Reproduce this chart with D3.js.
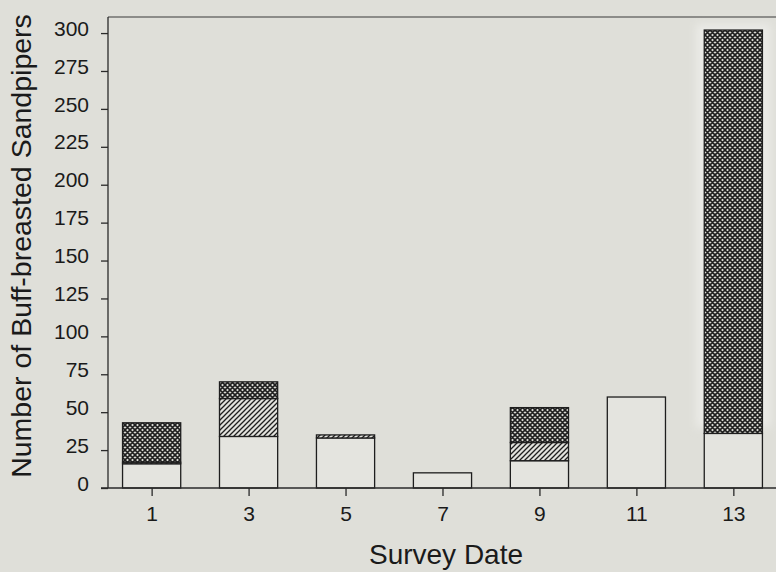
<!DOCTYPE html>
<html lang="en">
<head>
  <meta charset="UTF-8">
  <title>Buff-breasted Sandpipers</title>
  <script src="https://d3js.org/d3.v7.min.js"></script>
  <style>
    body {
      margin: 0;
      padding: 0;
      background: #dfdfd9;
    }
    #chart {
      width: 776px;
      height: 572px;
    }
    text {
      font-family: "Liberation Sans", Arial, sans-serif;
      fill: #1a1a1a;
    }
  </style>
</head>
<body>
  <div id="chart"></div>
<script>
  // survey dates and the three stacked parts of each bar
  const dates = [1, 3, 5, 7, 9, 11, 13]
  const openPart = [16, 34, 33, 10, 18, 60, 36]
  const hatchPart = [1, 25, 2, 0, 12, 0, 0]
  const crossPart = [26, 11, 0, 0, 23, 0, 266]
  const yTicks = [0, 25, 50, 75, 100, 125, 150, 175, 200, 225, 250, 275, 300]
  const xTicks = [1, 3, 5, 7, 9, 11, 13]

  const width = 776
  const height = 572
  const margin = {left: 108, right: 776, top: 17, bottom: 488}

  const svg = d3.select('#chart')
    .append('svg')
    .attr('width', width)
    .attr('height', height)

  svg.append('rect')
    .attr('width', width)
    .attr('height', height)
    .attr('fill', '#dfdfd9')

  const x = d3.scaleLinear().domain([0.1, 13.88]).range([margin.left, margin.right])
  const y = d3.scaleLinear().domain([0, 310.6]).range([margin.bottom, margin.top])
  const barW = x(1.6) - x(0.4)

  // fill patterns
  const defs = svg.append('defs')
  const cross = defs.append('pattern')
    .attr('id', 'cross')
    .attr('patternUnits', 'userSpaceOnUse')
    .attr('width', 5).attr('height', 5)
  cross.append('rect').attr('width', 5).attr('height', 5).attr('fill', '#dcdcd6')
  cross.append('path')
    .attr('d', 'M0,0L5,5M5,0L0,5M-1,4L1,6M4,-1L6,1M4,6L6,4M-1,1L1,-1')
    .attr('stroke', '#1e1e1e')
    .attr('stroke-width', 1.6)

  const hatch = defs.append('pattern')
    .attr('id', 'hatch')
    .attr('patternUnits', 'userSpaceOnUse')
    .attr('width', 5).attr('height', 5)
  hatch.append('rect').attr('width', 5).attr('height', 5).attr('fill', '#e2e2dd')
  hatch.append('path')
    .attr('d', 'M0,5L5,0M-1,1L1,-1M4,6L6,4')
    .attr('stroke', '#1e1e1e')
    .attr('stroke-width', 1.3)

  defs.append('filter')
    .attr('id', 'soft')
    .attr('x', '-20%').attr('y', '-5%')
    .attr('width', '140%').attr('height', '110%')
    .append('feGaussianBlur')
    .attr('stdDeviation', 4)

  // faint light halo seen round the tall last bar
  const last = dates.length - 1
  const lastTop = openPart[last] + hatchPart[last] + crossPart[last]
  svg.append('rect')
    .attr('x', x(dates[last]) - barW / 2 - 8)
    .attr('width', barW + 16)
    .attr('y', y(lastTop) - 6)
    .attr('height', y(40) - y(lastTop) + 6)
    .attr('fill', '#ebebe7')
    .attr('filter', 'url(#soft)')

  // stack the parts
  const rows = dates.map((d, i) => ({date: d, open: openPart[i], hatch: hatchPart[i], cross: crossPart[i]}))
  const stack = d3.stack().keys(['open', 'hatch', 'cross'])(rows)
  const fills = {open: '#e4e4df', hatch: 'url(#hatch)', cross: 'url(#cross)'}

  svg.append('g')
    .selectAll('g')
    .data(stack)
    .join('g')
    .attr('fill', s => fills[s.key])
    .selectAll('rect')
    .data(s => s.filter(d => d[1] > d[0]))
    .join('rect')
    .attr('x', d => x(d.data.date) - barW / 2)
    .attr('width', barW)
    .attr('y', d => y(d[1]))
    .attr('height', d => y(d[0]) - y(d[1]))
    .attr('stroke', '#1e1e1e')
    .attr('stroke-width', 1.3)

  // frame: top line and left axis
  svg.append('line')
    .attr('x1', margin.left).attr('x2', margin.right)
    .attr('y1', margin.top).attr('y2', margin.top)
    .attr('stroke', '#3a3a3a').attr('stroke-width', 1.2)

  const yAxis = svg.append('g')
    .attr('transform', `translate(${margin.left},0)`)
    .call(d3.axisLeft(y).tickValues(yTicks).tickSize(7).tickPadding(12))
  yAxis.select('.domain').attr('d', `M0,${margin.top}V${margin.bottom}`).attr('stroke', '#2a2a2a').attr('stroke-width', 1.3)
  yAxis.selectAll('.tick line').attr('stroke', '#2a2a2a').attr('stroke-width', 1.3)
  yAxis.selectAll('.tick text')
    .attr('font-size', 21)
    .attr('font-family', '"Liberation Sans", Arial, sans-serif')
    .attr('fill', '#1a1a1a')
    .attr('dy', '0.1em')

  const xAxis = svg.append('g')
    .attr('transform', `translate(0,${margin.bottom})`)
    .call(d3.axisBottom(x).tickValues(xTicks).tickSize(8).tickPadding(10))
  xAxis.select('.domain').attr('d', `M${margin.left - 7},0H${margin.right}`).attr('stroke', '#2a2a2a').attr('stroke-width', 1.3)
  xAxis.selectAll('.tick line').attr('stroke', '#2a2a2a').attr('stroke-width', 1.3)
  xAxis.selectAll('.tick text')
    .attr('font-size', 21)
    .attr('font-family', '"Liberation Sans", Arial, sans-serif')
    .attr('fill', '#1a1a1a')

  // axis titles
  svg.append('text')
    .attr('x', 446)
    .attr('y', 564)
    .attr('text-anchor', 'middle')
    .attr('font-size', 28)
    .text('Survey Date')

  svg.append('text')
    .attr('transform', 'translate(31,246) rotate(-90)')
    .attr('text-anchor', 'middle')
    .attr('font-size', 28.5)
    .text('Number of Buff-breasted Sandpipers')
</script>
</body>
</html>
